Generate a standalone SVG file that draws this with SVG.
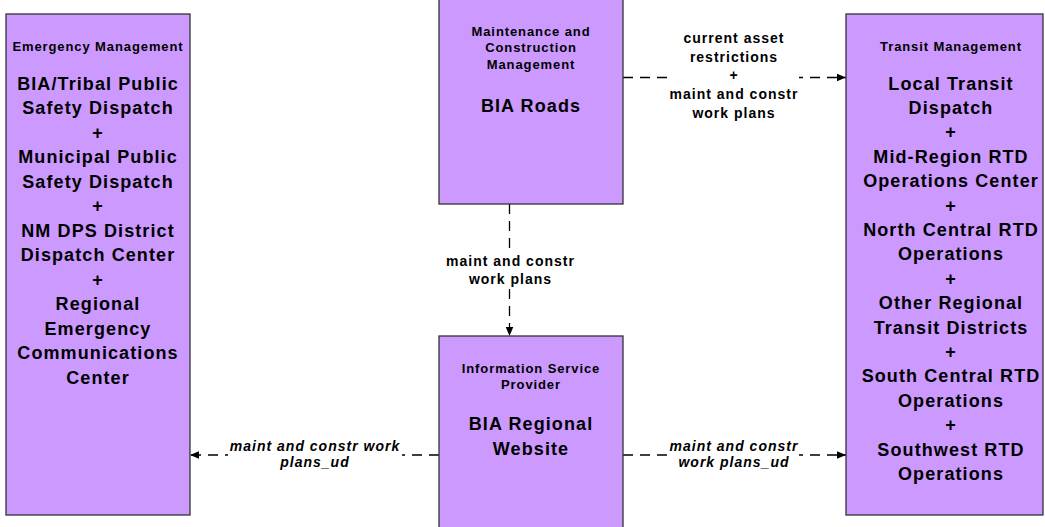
<svg xmlns="http://www.w3.org/2000/svg" width="1045" height="527" viewBox="0 0 1045 527">
<style>
.box{fill:#CC99FF;stroke:#333333;stroke-width:1.3}
.t{font-family:"Liberation Sans",Arial,sans-serif;font-weight:bold;fill:#000;text-anchor:middle}
.s{font-size:13px;letter-spacing:0.9px}
.b{font-size:18px;letter-spacing:1.1px}
.l{font-size:14px;letter-spacing:1px}
.i{font-style:italic}
.c{stroke:#000;stroke-width:1.3;stroke-dasharray:10 7;fill:none}
.bg{fill:#fff}
</style>
<defs>
<marker id="ah" viewBox="0 0 10 10" refX="10" refY="5" markerWidth="9" markerHeight="9" markerUnits="userSpaceOnUse" orient="auto">
<path d="M0,0.8 L10,5 L0,9.2 z" fill="#000"/>
</marker>
</defs>
<g id="connectors">
<line class="c" x1="623" y1="77.5" x2="846" y2="77.5" marker-end="url(#ah)"/>
<line class="c" x1="509.5" y1="204" x2="509.5" y2="336" marker-end="url(#ah)"/>
<line class="c" x1="439" y1="455" x2="190" y2="455" marker-end="url(#ah)"/>
<line class="c" x1="623" y1="455" x2="846" y2="455" marker-end="url(#ah)"/>
<rect class="bg" x="669" y="28" width="130" height="96"/>
<text class="t l" x="734" y="43">current asset</text>
<text class="t l" x="734" y="61.7">restrictions</text>
<text class="t l" x="734" y="80.3">+</text>
<text class="t l" x="734" y="99">maint and constr</text>
<text class="t l" x="734" y="117.5">work plans</text>
<rect class="bg" x="444" y="251" width="132" height="38"/>
<text class="t l" x="510.5" y="265.5">maint and constr</text>
<text class="t l" x="510.5" y="284">work plans</text>
<rect class="bg" x="228" y="440" width="174" height="32"/>
<text class="t l i" x="315" y="451">maint and constr work</text>
<text class="t l i" x="315" y="467">plans_ud</text>
<rect class="bg" x="669" y="440" width="130" height="32"/>
<text class="t l i" x="734" y="451">maint and constr</text>
<text class="t l i" x="734" y="467">work plans_ud</text>
</g>
<g id="emergency-management">
<rect class="box" x="6" y="14" width="184" height="501"/>
<text class="t s" x="98" y="50.5">Emergency Management</text>
<text class="t b" x="98" y="89.5">BIA/Tribal Public</text>
<text class="t b" x="98" y="114">Safety Dispatch</text>
<text class="t b" x="98" y="138.5">+</text>
<text class="t b" x="98" y="163">Municipal Public</text>
<text class="t b" x="98" y="187.5">Safety Dispatch</text>
<text class="t b" x="98" y="212">+</text>
<text class="t b" x="98" y="236.5">NM DPS District</text>
<text class="t b" x="98" y="261">Dispatch Center</text>
<text class="t b" x="98" y="285.5">+</text>
<text class="t b" x="98" y="310">Regional</text>
<text class="t b" x="98" y="334.5">Emergency</text>
<text class="t b" x="98" y="359">Communications</text>
<text class="t b" x="98" y="383.5">Center</text>
</g>
<g id="maintenance-construction">
<rect class="box" x="439" y="-2" width="184" height="206"/>
<text class="t s" x="531" y="35.5">Maintenance and</text>
<text class="t s" x="531" y="52">Construction</text>
<text class="t s" x="531" y="68.5">Management</text>
<text class="t b" x="531" y="111.5">BIA Roads</text>
</g>
<g id="information-service-provider">
<rect class="box" x="439" y="336" width="184" height="195"/>
<text class="t s" x="531" y="372.5">Information Service</text>
<text class="t s" x="531" y="389">Provider</text>
<text class="t b" x="531" y="430">BIA Regional</text>
<text class="t b" x="531" y="454.5">Website</text>
</g>
<g id="transit-management">
<rect class="box" x="846" y="14" width="197" height="501"/>
<text class="t s" x="951" y="50.5">Transit Management</text>
<text class="t b" x="951" y="89.5">Local Transit</text>
<text class="t b" x="951" y="113.9">Dispatch</text>
<text class="t b" x="951" y="138.3">+</text>
<text class="t b" x="951" y="162.7">Mid-Region RTD</text>
<text class="t b" x="951" y="187.1">Operations Center</text>
<text class="t b" x="951" y="211.5">+</text>
<text class="t b" x="951" y="235.9">North Central RTD</text>
<text class="t b" x="951" y="260.3">Operations</text>
<text class="t b" x="951" y="284.7">+</text>
<text class="t b" x="951" y="309.1">Other Regional</text>
<text class="t b" x="951" y="333.5">Transit Districts</text>
<text class="t b" x="951" y="357.9">+</text>
<text class="t b" x="951" y="382.3">South Central RTD</text>
<text class="t b" x="951" y="406.7">Operations</text>
<text class="t b" x="951" y="431.1">+</text>
<text class="t b" x="951" y="455.5">Southwest RTD</text>
<text class="t b" x="951" y="479.9">Operations</text>
</g>
</svg>
